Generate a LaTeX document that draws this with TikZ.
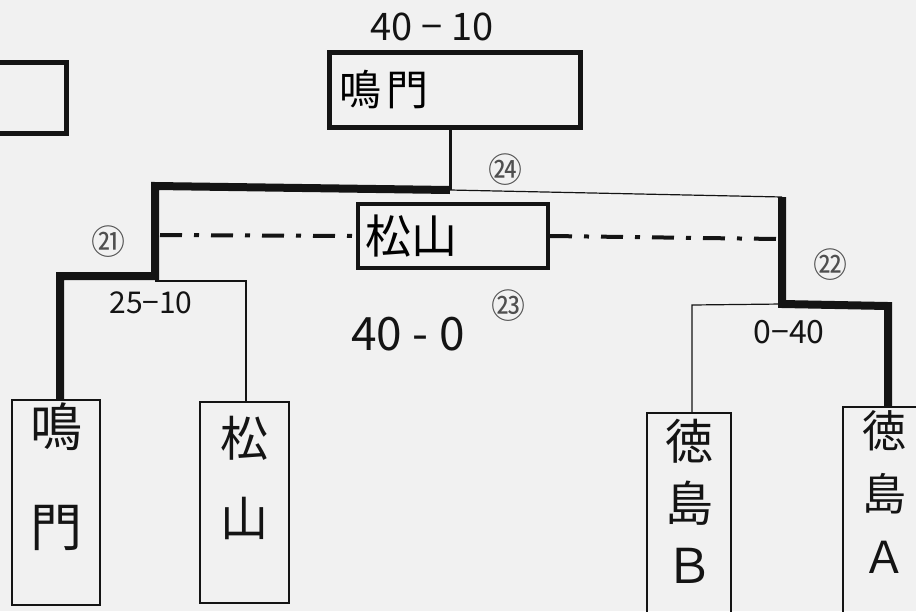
\documentclass[tikz,border=0pt]{standalone}
\usepackage{fontspec}
\newfontfamily\jp{Noto Sans CJK JP}
\definecolor{paper}{RGB}{241,241,241}
\definecolor{ink}{RGB}{20,20,20}
\tikzset{
  fs/.style={font=\jp\fontsize{#1}{#1}\selectfont},
  vtext/.style 2 args={font=\jp\fontsize{#1}{#2}\selectfont, align=center, anchor=north, inner sep=0pt, text=ink},
  bigbox/.style={draw=ink, line width=5pt, inner sep=0pt},
  teambox/.style={draw=ink, line width=1.8pt, inner sep=0pt},
  win/.style={draw=ink, line width=8pt, line cap=butt, line join=miter},
  lose/.style={draw=ink, line width=1.2pt},
  dashdot/.style={draw=ink, line width=4pt, dash pattern=on 22pt off 12pt on 5pt off 12pt},
  circ/.style={fs=34, text=ink!75},
  score/.style={fs=#1, text=ink, inner sep=0pt},
}
\begin{document}
\begin{tikzpicture}[x=1pt, y=-1pt]
\fill[paper] (0,0) rectangle (916,611);
\useasboundingbox (0,0) rectangle (916,611);

% partial box at left edge
\node[bigbox, minimum width=80pt, minimum height=71pt] (leftbox) at (26,97.5) {};

% final box
\node[bigbox, minimum width=251pt, minimum height=75pt, text width=231pt, align=left, fs=42] (final) at (454.5,89.5) {鳴\hspace{6pt}門};
\node[score=38] (finalscore) at (432,27) {40 − 10};

% third place box
\node[bigbox, line width=4pt, minimum width=190pt, minimum height=64pt, text width=176pt, align=left, fs=46] (third) at (453,236) {松山};

% team boxes
\node[teambox, minimum width=88pt, minimum height=205pt] (naruto) at (56,502.5) {};
\node[teambox, minimum width=89pt, minimum height=201pt] (matsu) at (244.5,502.5) {};
\node[teambox, minimum width=84pt, minimum height=210pt] (tokuB) at (689,518) {};
\node[teambox, minimum width=82pt, minimum height=210pt] (tokuA) at (884,512) {};
\node[vtext={52}{100}] (narutoT) at (56,403) {鳴\\門};
\node[vtext={48}{80}] (matsuT) at (244.5,416) {松\\山};
\node[vtext={48}{62}] (tokuBT) at (689,419) {徳\\島\\Ｂ};
\node[vtext={44}{63}] (tokuAT) at (884,410) {徳\\島\\Ａ};

% bracket joints
\coordinate (jtop) at (450,190);
\coordinate (jL) at (155,186);
\coordinate (jLa) at (155,276);
\coordinate (jLb) at (60,276);
\coordinate (jLc) at (246,281);
\coordinate (jR) at (782,197);
\coordinate (jRa) at (782,304);
\coordinate (jRb) at (888,306);
\coordinate (jRc) at (692,305);

% final stem
\draw[draw=ink, line width=3pt] (final.south -| jtop) -- (jtop);
% winners' path (thick)
\draw[win] (naruto.north -| jLb) -- (jLb) -- (jLa) -- (jL) -- (jtop);
\draw[win] (jR) -- (jRa) -- (jRb) -- (tokuA.north -| jRb);
% losers' lines (thin)
\draw[lose] (jtop) -- (jR);
\draw[lose] (jLa |- jLc) -- (jLc) -- (matsu.north -| jLc);
\draw[lose] (jRa) -- (jRc) -- (tokuB.north -| jRc);

% third place dash-dot
\draw[dashdot] (160,235) -- (third.west);
\draw[dashdot] (third.east) -- (778,239);

% match numbers
\node[circ] (m21) at (108,242) {㉑};
\node[circ] (m22) at (830,265) {㉒};
\node[circ] (m23) at (508,306) {㉓};
\node[circ] (m24) at (505,170) {㉔};

% scores
\node[score=30] (s21) at (151,303) {25−10};
\node[score=46] (s23) at (408,334) {40 - 0};
\node[score=32] (s22) at (789,332) {0−40};
\end{tikzpicture}
\end{document}
